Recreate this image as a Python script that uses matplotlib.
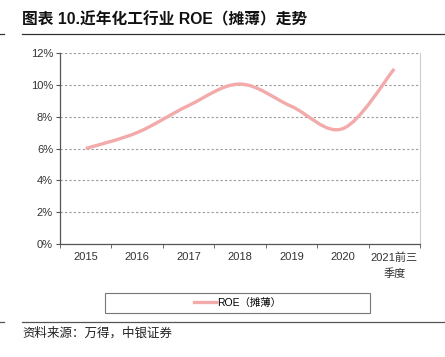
import numpy as np
import matplotlib
matplotlib.use('Agg')
import matplotlib.pyplot as plt
from matplotlib.path import Path
from matplotlib.patches import PathPatch, Rectangle
from matplotlib.lines import Line2D

# Dados do grafico
anos = ['2015', '2016', '2017', '2018', '2019', '2020', '2021前三\n季度']
roe = [6.0, 7.0, 8.7, 10.05, 8.65, 7.25, 11.0]   # %
titulo = '图表 10.近年化工行业 ROE（摊薄）走势'
fonte = '资料来源：万得，中银证券'
serie = 'ROE（摊薄）'

fam = ['Liberation Sans', 'Noto Sans CJK SC', 'DejaVu Sans']
plt.rcParams['font.family'] = fam

cor = '#F2AAAA'

fig = plt.figure(figsize=(4.45, 3.57), dpi=100)
ax = fig.add_axes([0.1348, 0.3165, 0.809, 0.535])

# Linha suavizada (bezier pelos pontos, estilo Excel)
x = np.arange(len(roe), dtype=float)
y = np.array(roe)
verts = [(x[0], y[0])]
codes = [Path.MOVETO]
n = len(x)
for i in range(n - 1):
    p0 = (x[i - 1], y[i - 1]) if i > 0 else (x[i], y[i])
    p1 = (x[i], y[i])
    p2 = (x[i + 1], y[i + 1])
    p3 = (x[i + 2], y[i + 2]) if i + 2 < n else (x[i + 1], y[i + 1])
    t = 1 / 6
    c1 = (p1[0] + (p2[0] - p0[0]) * t, p1[1] + (p2[1] - p0[1]) * t)
    c2 = (p2[0] - (p3[0] - p1[0]) * t, p2[1] - (p3[1] - p1[1]) * t)
    verts += [c1, c2, p2]
    codes += [Path.CURVE4] * 3
ax.add_patch(PathPatch(Path(verts, codes), facecolor='none', edgecolor=cor,
                       lw=2.4, capstyle='butt', zorder=3))

ax.set_xlim(-0.5, 6.5)
ax.set_ylim(0, 12)
ax.set_yticks(np.arange(0, 13, 2))
ax.set_yticklabels([f'{v}%' for v in range(0, 13, 2)], fontsize=8, color='#333333')
ax.set_xticks(x)
ax.set_xticklabels(anos, fontsize=8, color='#333333', linespacing=1.6, va='top')
ax.set_xticks(np.arange(-0.5, 7, 1), minor=True)
ax.tick_params(axis='x', which='major', length=0, pad=6)
ax.tick_params(axis='x', which='minor', length=3, direction='out', color='#555555')
ax.tick_params(axis='y', length=3, direction='out', color='#555555', pad=2)
ax.yaxis.grid(True, ls=(0, (2, 2)), color='#999999', lw=0.8)
ax.set_axisbelow(True)
for s in ['left', 'bottom']:
    ax.spines[s].set_color('#555555')
    ax.spines[s].set_linewidth(0.9)
ax.spines['top'].set_visible(False)
ax.spines['right'].set_color('#cccccc')

# Legenda (caixa larga desenhada a parte)
fig.add_artist(Rectangle((105 / 445, 1 - 313 / 357), 265 / 445, 20 / 357,
                         transform=fig.transFigure, facecolor='white',
                         edgecolor='#777777', lw=0.8))
h = Line2D([], [], color=cor, lw=2.4)
leg = fig.legend([h], [serie], loc='center', frameon=False,
                 bbox_to_anchor=(237.5 / 445, 1 - 303 / 357),
                 bbox_transform=fig.transFigure, fontsize=7.5,
                 handlelength=2.2, handletextpad=0.1)

# Titulo e fonte
fig.text(22 / 445, 1 - 20 / 357, titulo, fontsize=11.3, fontweight='bold',
         va='center', ha='left', color='#111111')
fig.add_artist(Line2D([22 / 445, 1], [1 - 34 / 357] * 2, color='#333333', lw=0.9))
fig.add_artist(Line2D([0, 4 / 445], [1 - 34 / 357] * 2, color='#333333', lw=0.9))
fig.add_artist(Line2D([22 / 445, 1], [1 - 322 / 357] * 2, color='#555555', lw=0.9))
fig.add_artist(Line2D([0, 4 / 445], [1 - 322 / 357] * 2, color='#555555', lw=0.9))
fig.text(22 / 445, 1 - 333 / 357, fonte, fontsize=9, va='center', ha='left',
         color='#222222', style='italic')

fig.savefig('out.png', dpi=100)
